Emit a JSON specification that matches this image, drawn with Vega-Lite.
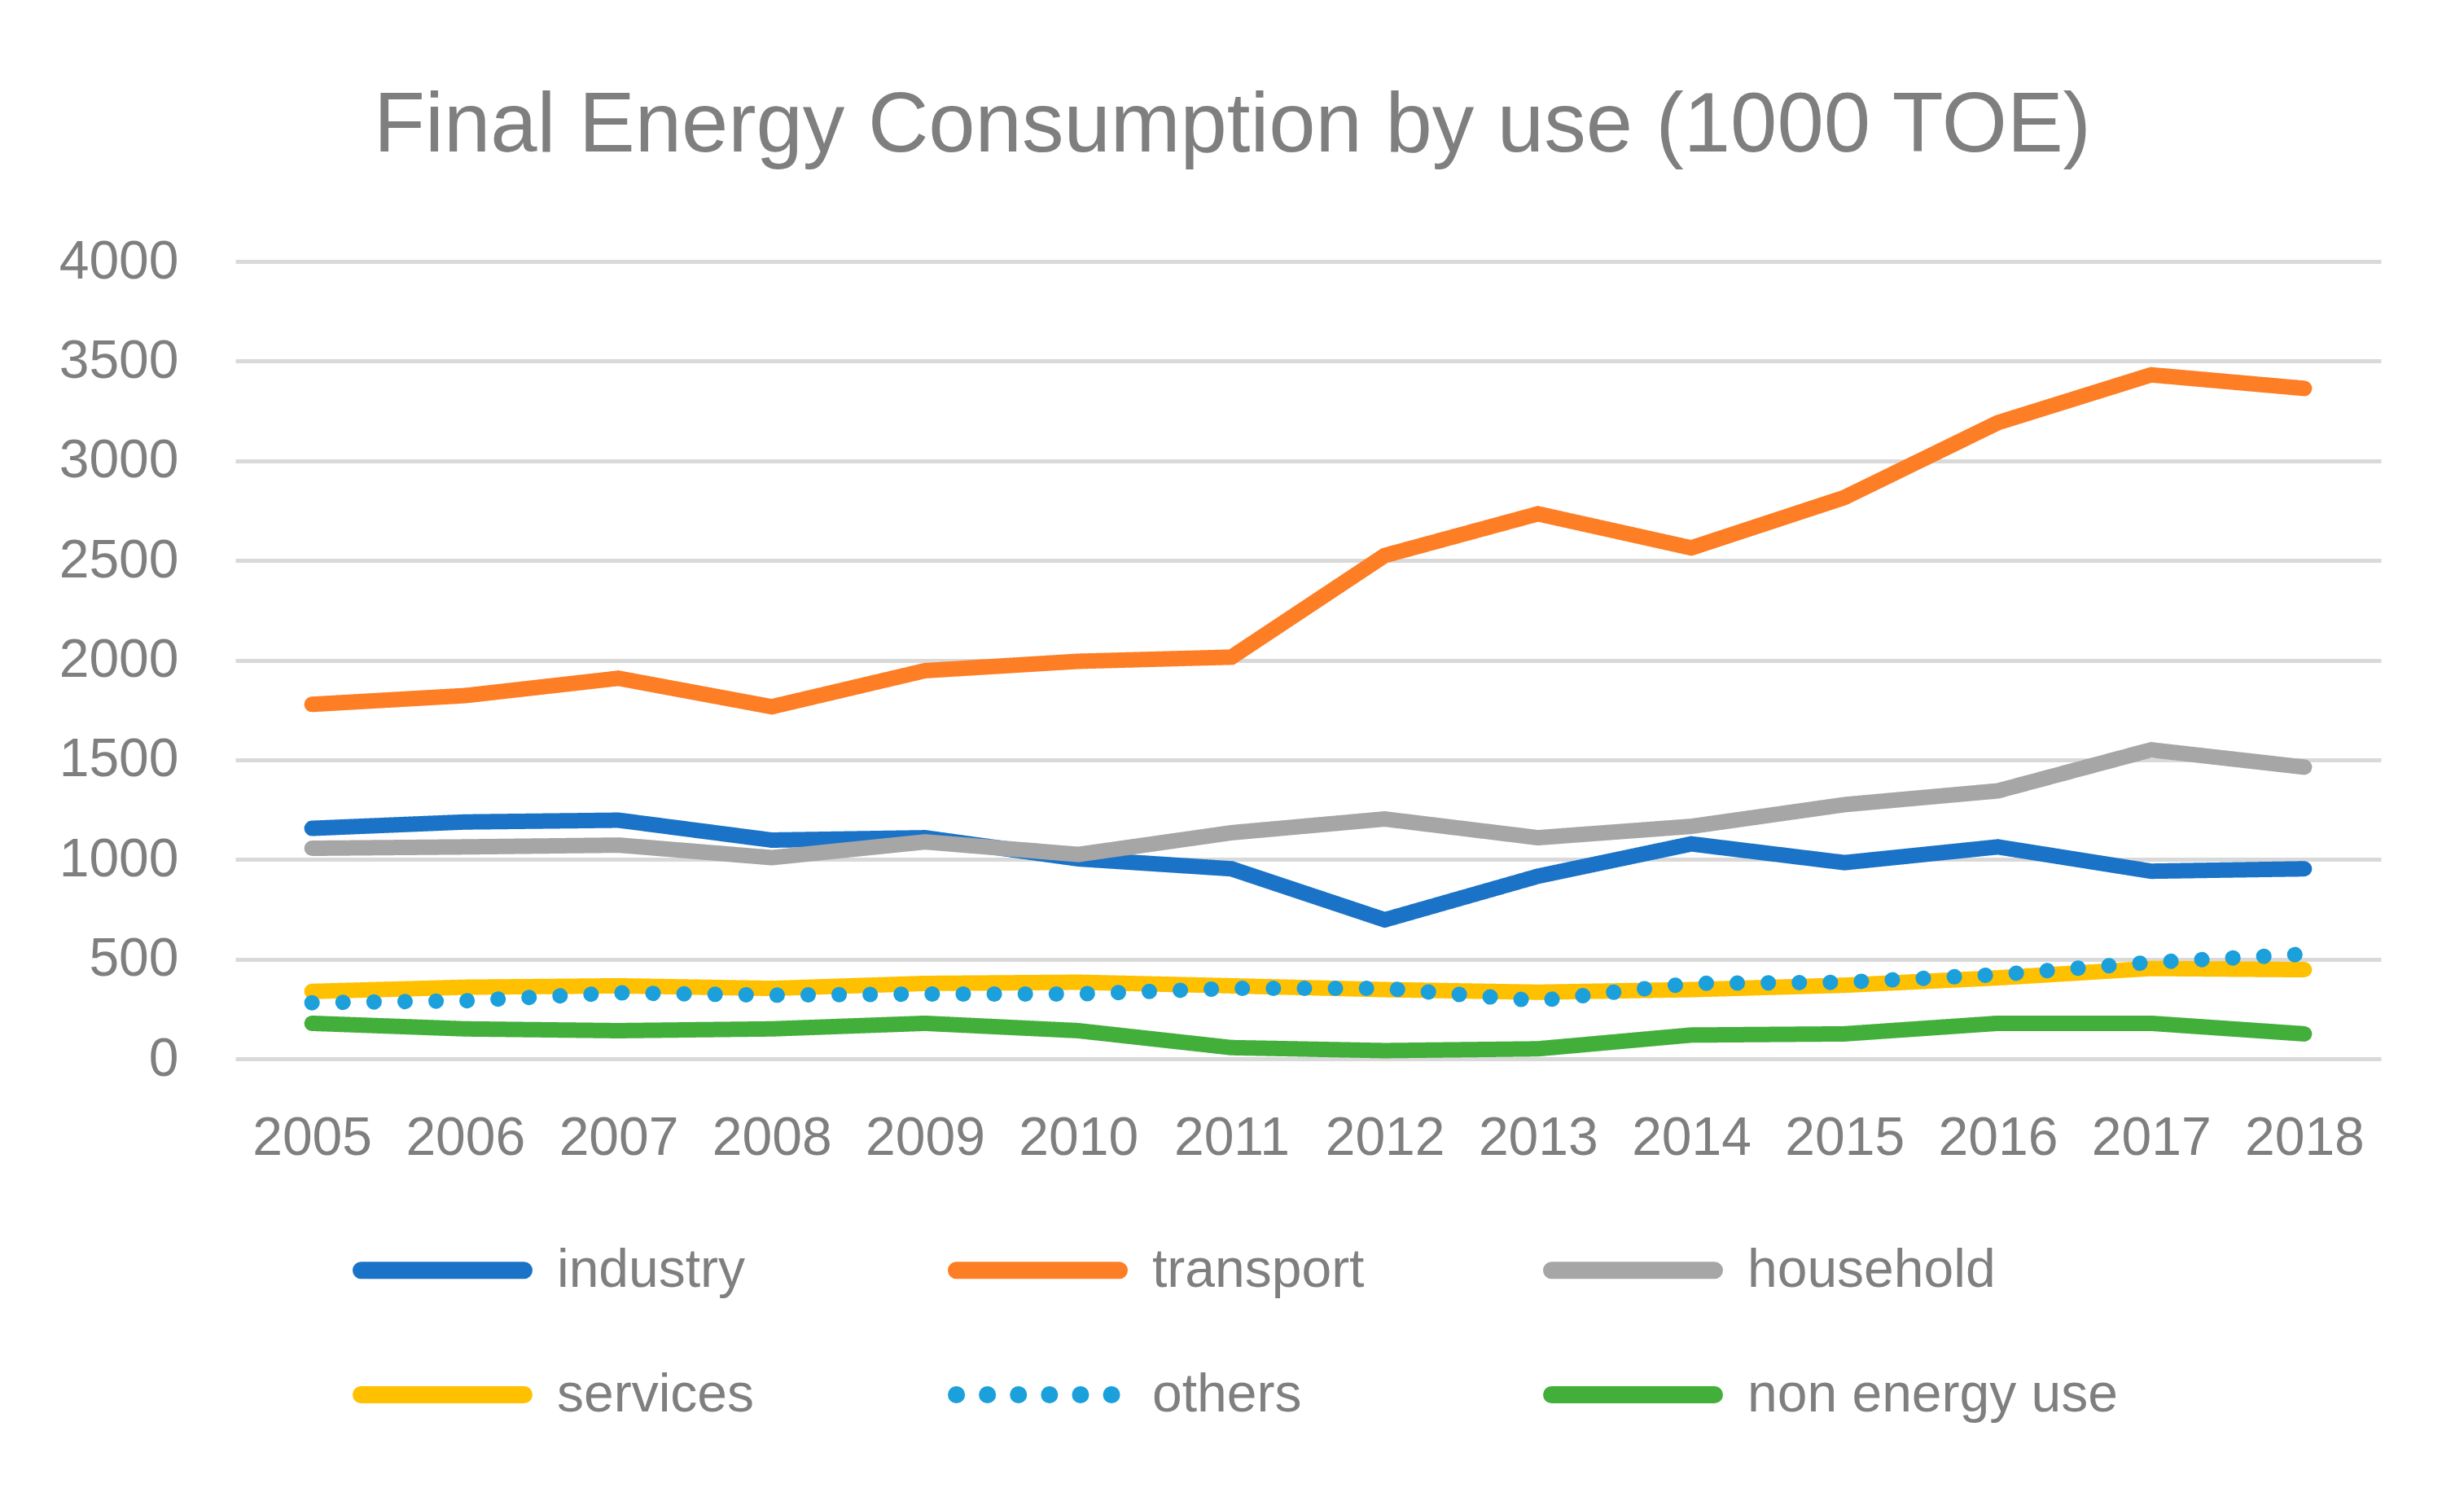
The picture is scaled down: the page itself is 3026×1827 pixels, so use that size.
{
  "$schema": "https://vega.github.io/schema/vega-lite/v6.json",
  "autosize": {"type": "none"},
  "width": 2635,
  "height": 979,
  "padding": {"left": 289, "top": 321, "right": 102, "bottom": 527},
  "background": "white",
  "title": {
    "text": "Final Energy Consumption by use (1000 TOE)",
    "font": "Liberation Sans",
    "fontSize": 103,
    "fontWeight": "normal",
    "color": "#7F7F7F",
    "anchor": "middle",
    "frame": "group",
    "baseline": "alphabetic",
    "dx": -93,
    "dy": 97,
    "offset": 96
  },
  "config": {
    "view": {"stroke": null},
    "font": "Liberation Sans"
  },
  "data": {
    "values": [
      {"year": "2005", "use": "industry", "value": 1156},
      {"year": "2006", "use": "industry", "value": 1188},
      {"year": "2007", "use": "industry", "value": 1197},
      {"year": "2008", "use": "industry", "value": 1097},
      {"year": "2009", "use": "industry", "value": 1109},
      {"year": "2010", "use": "industry", "value": 1003},
      {"year": "2011", "use": "industry", "value": 953},
      {"year": "2012", "use": "industry", "value": 697},
      {"year": "2013", "use": "industry", "value": 916},
      {"year": "2014", "use": "industry", "value": 1078},
      {"year": "2015", "use": "industry", "value": 984},
      {"year": "2016", "use": "industry", "value": 1063},
      {"year": "2017", "use": "industry", "value": 941},
      {"year": "2018", "use": "industry", "value": 953},
      {"year": "2005", "use": "transport", "value": 1778},
      {"year": "2006", "use": "transport", "value": 1822},
      {"year": "2007", "use": "transport", "value": 1909},
      {"year": "2008", "use": "transport", "value": 1766},
      {"year": "2009", "use": "transport", "value": 1947},
      {"year": "2010", "use": "transport", "value": 1994},
      {"year": "2011", "use": "transport", "value": 2015},
      {"year": "2012", "use": "transport", "value": 2525},
      {"year": "2013", "use": "transport", "value": 2734},
      {"year": "2014", "use": "transport", "value": 2563},
      {"year": "2015", "use": "transport", "value": 2816},
      {"year": "2016", "use": "transport", "value": 3191},
      {"year": "2017", "use": "transport", "value": 3431},
      {"year": "2018", "use": "transport", "value": 3363},
      {"year": "2005", "use": "household", "value": 1056},
      {"year": "2006", "use": "household", "value": 1063},
      {"year": "2007", "use": "household", "value": 1072},
      {"year": "2008", "use": "household", "value": 1009},
      {"year": "2009", "use": "household", "value": 1088},
      {"year": "2010", "use": "household", "value": 1025},
      {"year": "2011", "use": "household", "value": 1134},
      {"year": "2012", "use": "household", "value": 1203},
      {"year": "2013", "use": "household", "value": 1109},
      {"year": "2014", "use": "household", "value": 1166},
      {"year": "2015", "use": "household", "value": 1275},
      {"year": "2016", "use": "household", "value": 1344},
      {"year": "2017", "use": "household", "value": 1550},
      {"year": "2018", "use": "household", "value": 1463},
      {"year": "2005", "use": "services", "value": 338},
      {"year": "2006", "use": "services", "value": 359},
      {"year": "2007", "use": "services", "value": 366},
      {"year": "2008", "use": "services", "value": 353},
      {"year": "2009", "use": "services", "value": 378},
      {"year": "2010", "use": "services", "value": 384},
      {"year": "2011", "use": "services", "value": 366},
      {"year": "2012", "use": "services", "value": 347},
      {"year": "2013", "use": "services", "value": 334},
      {"year": "2014", "use": "services", "value": 347},
      {"year": "2015", "use": "services", "value": 369},
      {"year": "2016", "use": "services", "value": 406},
      {"year": "2017", "use": "services", "value": 453},
      {"year": "2018", "use": "services", "value": 447},
      {"year": "2005", "use": "others", "value": 281},
      {"year": "2006", "use": "others", "value": 291},
      {"year": "2007", "use": "others", "value": 331},
      {"year": "2008", "use": "others", "value": 319},
      {"year": "2009", "use": "others", "value": 325},
      {"year": "2010", "use": "others", "value": 325},
      {"year": "2011", "use": "others", "value": 353},
      {"year": "2012", "use": "others", "value": 353},
      {"year": "2013", "use": "others", "value": 291},
      {"year": "2014", "use": "others", "value": 378},
      {"year": "2015", "use": "others", "value": 384},
      {"year": "2016", "use": "others", "value": 422},
      {"year": "2017", "use": "others", "value": 484},
      {"year": "2018", "use": "others", "value": 525},
      {"year": "2005", "use": "non energy use", "value": 178},
      {"year": "2006", "use": "non energy use", "value": 150},
      {"year": "2007", "use": "non energy use", "value": 141},
      {"year": "2008", "use": "non energy use", "value": 150},
      {"year": "2009", "use": "non energy use", "value": 178},
      {"year": "2010", "use": "non energy use", "value": 141},
      {"year": "2011", "use": "non energy use", "value": 56},
      {"year": "2012", "use": "non energy use", "value": 41},
      {"year": "2013", "use": "non energy use", "value": 50},
      {"year": "2014", "use": "non energy use", "value": 119},
      {"year": "2015", "use": "non energy use", "value": 125},
      {"year": "2016", "use": "non energy use", "value": 178},
      {"year": "2017", "use": "non energy use", "value": 178},
      {"year": "2018", "use": "non energy use", "value": 125}
    ]
  },
  "mark": {"type": "line", "strokeWidth": 19, "strokeCap": "round"},
  "encoding": {
    "x": {
      "field": "year",
      "type": "ordinal",
      "scale": {"type": "point", "padding": 0.5},
      "axis": {
        "title": null,
        "labelAngle": 0,
        "labelFontSize": 66,
        "labelColor": "#7F7F7F",
        "labelPadding": 65,
        "domain": false,
        "ticks": false,
        "grid": false
      }
    },
    "y": {
      "field": "value",
      "type": "quantitative",
      "scale": {"domain": [0, 4000], "nice": false},
      "axis": {
        "title": null,
        "format": "d",
        "values": [0, 500, 1000, 1500, 2000, 2500, 3000, 3500, 4000],
        "labelFontSize": 66,
        "labelColor": "#7F7F7F",
        "labelPadding": 70,
        "domain": false,
        "ticks": false,
        "grid": true,
        "gridColor": "#D9D9D9",
        "gridWidth": 5
      }
    },
    "color": {
      "field": "use",
      "type": "nominal",
      "sort": ["industry", "transport", "household", "services", "others", "non energy use"],
      "scale": {
        "domain": ["industry", "transport", "household", "services", "others", "non energy use"],
        "range": ["#1A73C7", "#FD7E24", "#A6A6A6", "#FFC000", "#1BA0DB", "#43AF3B"]
      },
      "legend": {
        "title": null,
        "orient": "none",
        "direction": "horizontal",
        "columns": 3,
        "gridAlign": "all",
        "legendX": 144,
        "legendY": 1128,
        "padding": 0,
        "symbolType": "stroke",
        "symbolSize": 40000,
        "symbolStrokeWidth": 21,
        "labelFontSize": 66,
        "labelColor": "#7F7F7F",
        "labelOffset": 30,
        "columnPadding": -8,
        "rowPadding": -60,
        "labelLimit": 1000,
        "encode": {"symbols": {"update": {"strokeCap": {"value": "round"}}}}
      }
    },
    "strokeDash": {
      "field": "use",
      "type": "nominal",
      "sort": ["industry", "transport", "household", "services", "others", "non energy use"],
      "scale": {
        "domain": ["industry", "transport", "household", "services", "others", "non energy use"],
        "range": [[1, 0], [1, 0], [1, 0], [1, 0], [0.1, 38], [1, 0]]
      },
      "legend": null
    }
  }
}
